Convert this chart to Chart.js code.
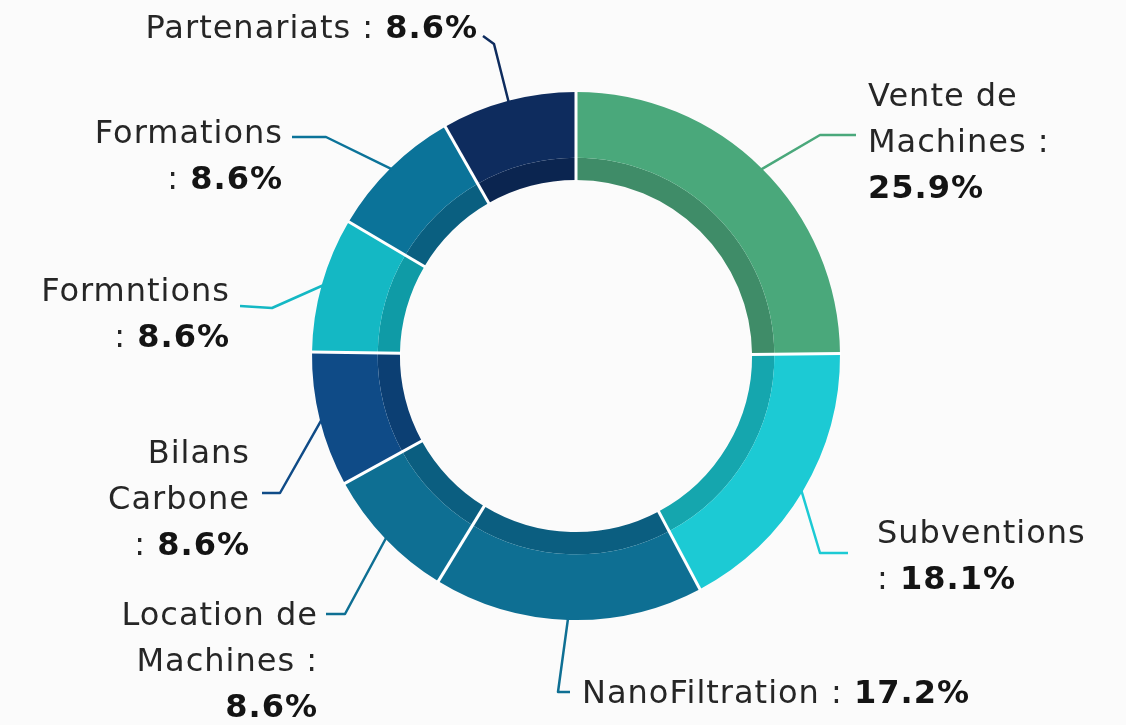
<!DOCTYPE html>
<html>
<head>
<meta charset="utf-8">
<title>Répartition des revenus</title>
<script src="https://cdn.jsdelivr.net/npm/chart.js@4/dist/chart.umd.min.js"></script>
<style>
  html, body { margin: 0; padding: 0; background: #fbfbfb; }
  #wrap { width: 1126px; height: 725px; position: relative; }
</style>
</head>
<body>
<div id="wrap"><canvas id="revenueChart"></canvas></div>
<script>
const categories = ["Vente de Machines", "Subventions", "NanoFiltration", "Location de Machines", "Bilans Carbone", "Formntions", "Formations", "Partenariats"];
const shares = [25.9, 18.1, 17.2, 8.6, 8.6, 8.6, 8.6, 8.6];

const mainColors = ["#4aa87b", "#1ccad4", "#0e6f93", "#0e6f93", "#0f4b87", "#14b8c4", "#0b7399", "#0e2c5e"];
const shadeColors = ["#3f8c68", "#15a6ae", "#0b5e80", "#0b5e80", "#0c3f73", "#0f9ba6", "#0a5f80", "#0b2550"];

// label text: "{v}" is replaced by the bold percentage
const labelLines = [
  ["Vente de", "Machines :", "{v}"],
  ["Subventions", ": {v}"],
  ["NanoFiltration : {v}"],
  ["Location de", "Machines :", "{v}"],
  ["Bilans", "Carbone", ": {v}"],
  ["Formntions", ": {v}"],
  ["Formations", ": {v}"],
  ["Partenariats : {v}"],
];

// where each label sits and how its leader line bends (page pixels)
const labelLayout = [
  { x: 868, y: 98, align: "left", bend: [[820, 135], [856, 135]] },
  { x: 877, y: 535, align: "left", bend: [[820, 553], [848, 553]] },
  { x: 582, y: 695, align: "left", bend: [[558, 692], [570, 692]] },
  { x: 318, y: 617, align: "right", bend: [[345, 614], [326, 614]] },
  { x: 250, y: 455, align: "right", bend: [[280, 493], [262, 493]] },
  { x: 230, y: 293, align: "right", bend: [[272, 308], [240, 306]] },
  { x: 283, y: 135, align: "right", bend: [[326, 137], [292, 137]] },
  { x: 478, y: 30, align: "right", bend: [[494, 44], [483, 36]] },
];

const lineGap = 46;
const fontFamily = "'DejaVu Sans', sans-serif";

const ringPlugin = {
  id: "ringLabels",
  afterDatasetsDraw(chart) {
    const ctx = chart.ctx;
    const outerArcs = chart.getDatasetMeta(0).data;
    const innerArcs = chart.getDatasetMeta(1).data;

    // white separators across both rings
    ctx.save();
    ctx.strokeStyle = "#ffffff";
    ctx.lineWidth = 3;
    outerArcs.forEach((arc, i) => {
      const a = arc.startAngle;
      const r0 = innerArcs[i].innerRadius - 1;
      const r1 = arc.outerRadius + 1;
      ctx.beginPath();
      ctx.moveTo(arc.x + Math.cos(a) * r0, arc.y + Math.sin(a) * r0);
      ctx.lineTo(arc.x + Math.cos(a) * r1, arc.y + Math.sin(a) * r1);
      ctx.stroke();
    });
    ctx.restore();

    // leader lines
    ctx.save();
    ctx.lineWidth = 2.5;
    ctx.lineJoin = "round";
    outerArcs.forEach((arc, i) => {
      const mid = (arc.startAngle + arc.endAngle) / 2;
      const r = arc.outerRadius - 2;
      ctx.strokeStyle = mainColors[i];
      ctx.beginPath();
      ctx.moveTo(arc.x + Math.cos(mid) * r, arc.y + Math.sin(mid) * r);
      labelLayout[i].bend.forEach(([bx, by]) => ctx.lineTo(bx, by));
      ctx.stroke();
    });
    ctx.restore();

    // label text
    ctx.save();
    ctx.textBaseline = "middle";
    ctx.textAlign = "left";
    if ("letterSpacing" in ctx) ctx.letterSpacing = "1px";
    const normalFont = "32px " + fontFamily;
    const boldFont = "bold 32px " + fontFamily;
    labelLines.forEach((lines, i) => {
      const layout = labelLayout[i];
      const pct = shares[i].toFixed(1) + "%";
      lines.forEach((line, j) => {
        const parts = line.split("{v}");
        const before = parts[0];
        const hasValue = parts.length > 1;
        ctx.font = normalFont;
        const w1 = ctx.measureText(before).width;
        ctx.font = boldFont;
        const w2 = hasValue ? ctx.measureText(pct).width : 0;
        const total = w1 + w2;
        let x = layout.align === "right" ? layout.x - total : layout.x;
        const y = layout.y + j * lineGap;
        ctx.font = normalFont;
        ctx.fillStyle = "#262626";
        ctx.fillText(before, x, y);
        if (hasValue) {
          ctx.font = boldFont;
          ctx.fillStyle = "#141414";
          ctx.fillText(pct, x + w1, y);
        }
      });
    });
    ctx.restore();
  },
};

new Chart(document.getElementById("revenueChart"), {
  type: "doughnut",
  data: {
    labels: categories,
    datasets: [
      {
        data: shares,
        backgroundColor: mainColors,
        borderWidth: 0,
        hoverOffset: 0,
        weight: 65,
      },
      {
        data: shares,
        backgroundColor: shadeColors,
        borderWidth: 0,
        hoverOffset: 0,
        weight: 22,
      },
    ],
  },
  options: {
    responsive: true,
    maintainAspectRatio: false,
    animation: false,
    cutout: "66.7%",
    layout: {
      padding: { top: 92, bottom: 105, left: 312, right: 286 },
    },
    plugins: {
      legend: { display: false },
      tooltip: { enabled: false },
    },
  },
  plugins: [ringPlugin],
});
</script>
</body>
</html>
